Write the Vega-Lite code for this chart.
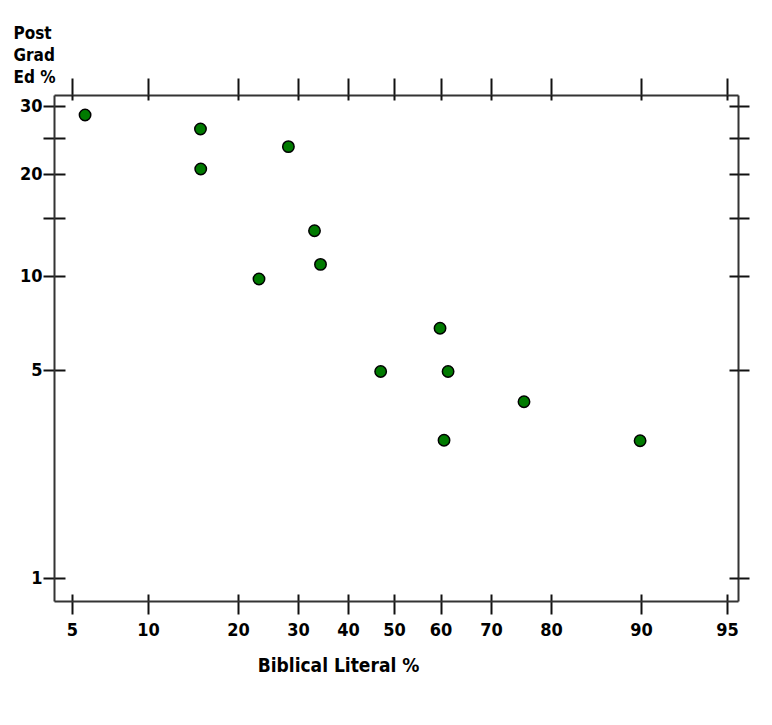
{
  "$schema": "https://vega.github.io/schema/vega-lite/v6.json",
  "width": 684,
  "height": 506,
  "autosize": "none",
  "padding": {"left": 54, "top": 95, "right": 34, "bottom": 124},
  "background": "white",
  "config": {
    "view": {"stroke": null},
    "axis": {
      "grid": false,
      "labelFont": "DejaVu Sans Condensed, Liberation Sans Narrow, sans-serif",
      "labelFontWeight": "bold",
      "labelFontSize": 18,
      "labelColor": "#000",
      "titleFont": "DejaVu Sans Condensed, Liberation Sans Narrow, sans-serif",
      "titleFontWeight": "bold",
      "titleFontSize": 19,
      "titleColor": "#000",
      "domainColor": "#333",
      "domainWidth": 2,
      "tickColor": "#111",
      "tickWidth": 2
    }
  },
  "data": {
    "values": [
      {"lit": 5.86, "pg": 28.6},
      {"lit": 15.83, "pg": 26.4},
      {"lit": 15.86, "pg": 20.7},
      {"lit": 28.4, "pg": 23.8},
      {"lit": 33.3, "pg": 13.9},
      {"lit": 34.5, "pg": 11.0},
      {"lit": 23.5, "pg": 9.84},
      {"lit": 59.9, "pg": 7.22},
      {"lit": 47.1, "pg": 4.97},
      {"lit": 61.5, "pg": 4.97},
      {"lit": 75.5, "pg": 4.39},
      {"lit": 60.7, "pg": 3.65},
      {"lit": 89.9, "pg": 3.64}
    ]
  },
  "resolve": {"axis": {"x": "independent", "y": "independent"}},
  "layer": [
    {
      "mark": {"type": "point", "opacity": 0},
      "encoding": {
        "x": {
          "field": "lit", "type": "quantitative",
          "scale": {"type": "linear", "domain": [3.82, 5, 10, 20, 30, 40, 50, 60, 70, 80, 90, 95, 95.64], "range": [0, 18, 94, 184, 244, 294, 340, 386.5, 437, 497, 587, 673, 684], "nice": false, "zero": false},
          "axis": {"orient": "bottom", "values": [5, 10, 20, 30, 40, 50, 60, 70, 80, 90, 95], "tickSize": -7, "labels": false, "domain": false, "title": null}
        },
        "y": {
          "field": "pg", "type": "quantitative",
          "scale": {"type": "linear", "domain": [0.83, 1, 5, 10, 15, 20, 25, 30, 31.9], "range": [506, 483, 275, 181, 123, 79, 43, 11, 0], "nice": false, "zero": false},
          "axis": {"orient": "left", "values": [1, 5, 10, 15, 20, 25, 30], "tickSize": -11, "labels": false, "domain": false, "title": null}
        }
      }
    },
    {
      "mark": {"type": "point", "opacity": 0},
      "encoding": {
        "x": {
          "field": "lit", "type": "quantitative",
          "scale": {"type": "linear", "domain": [3.82, 5, 10, 20, 30, 40, 50, 60, 70, 80, 90, 95, 95.64], "range": [0, 18, 94, 184, 244, 294, 340, 386.5, 437, 497, 587, 673, 684], "nice": false, "zero": false},
          "axis": {"orient": "top", "values": [5, 10, 20, 30, 40, 50, 60, 70, 80, 90, 95], "tickSize": 17, "labels": false, "domain": true, "title": null}
        },
        "y": {
          "field": "pg", "type": "quantitative",
          "scale": {"type": "linear", "domain": [0.83, 1, 5, 10, 15, 20, 25, 30, 31.9], "range": [506, 483, 275, 181, 123, 79, 43, 11, 0], "nice": false, "zero": false},
          "axis": {"orient": "right", "values": [1, 5, 10, 15, 20, 25, 30], "tickSize": 11, "labels": false, "domain": true, "title": null}
        }
      }
    },
    {
      "mark": {"type": "point", "opacity": 0},
      "encoding": {
        "x": {
          "field": "lit", "type": "quantitative",
          "scale": {"type": "linear", "domain": [3.82, 5, 10, 20, 30, 40, 50, 60, 70, 80, 90, 95, 95.64], "range": [0, 18, 94, 184, 244, 294, 340, 386.5, 437, 497, 587, 673, 684], "nice": false, "zero": false},
          "axis": {"orient": "top", "values": [5, 10, 20, 30, 40, 50, 60, 70, 80, 90, 95], "tickSize": -5, "labels": false, "domain": false, "title": null}
        },
        "y": {
          "field": "pg", "type": "quantitative",
          "scale": {"type": "linear", "domain": [0.83, 1, 5, 10, 15, 20, 25, 30, 31.9], "range": [506, 483, 275, 181, 123, 79, 43, 11, 0], "nice": false, "zero": false},
          "axis": {"orient": "right", "values": [1, 5, 10, 15, 20, 25, 30], "tickSize": -9, "labels": false, "domain": false, "title": null}
        }
      }
    },
    {
      "mark": {"type": "point", "filled": true, "fill": "#007a00", "stroke": "#000", "strokeWidth": 1.5, "size": 130, "opacity": 1},
      "encoding": {
        "x": {
          "field": "lit", "type": "quantitative",
          "scale": {"type": "linear", "domain": [3.82, 5, 10, 20, 30, 40, 50, 60, 70, 80, 90, 95, 95.64], "range": [0, 18, 94, 184, 244, 294, 340, 386.5, 437, 497, 587, 673, 684], "nice": false, "zero": false},
          "axis": {"orient": "bottom", "values": [5, 10, 20, 30, 40, 50, 60, 70, 80, 90, 95], "tickSize": 13, "labelPadding": 7, "domain": true, "title": "Biblical Literal %", "titleX": 284, "titleY": 70, "titleAlign": "center", "titleBaseline": "alphabetic", "titleAnchor": null}
        },
        "y": {
          "field": "pg", "type": "quantitative",
          "scale": {"type": "linear", "domain": [0.83, 1, 5, 10, 15, 20, 25, 30, 31.9], "range": [506, 483, 275, 181, 123, 79, 43, 11, 0], "nice": false, "zero": false},
          "axis": {"orient": "left", "values": [1, 5, 10, 15, 20, 25, 30], "tickSize": 11, "labelPadding": 1, "labelExpr": "datum.value == 15 || datum.value == 25 ? '' : datum.label", "domain": true, "title": ["Post", "Grad", "Ed %"], "titleAngle": 0, "titleAlign": "left", "titleBaseline": "alphabetic", "titleX": -41, "titleY": -57, "titleLineHeight": 22, "titleFontSize": 17}
        }
      }
    }
  ]
}
